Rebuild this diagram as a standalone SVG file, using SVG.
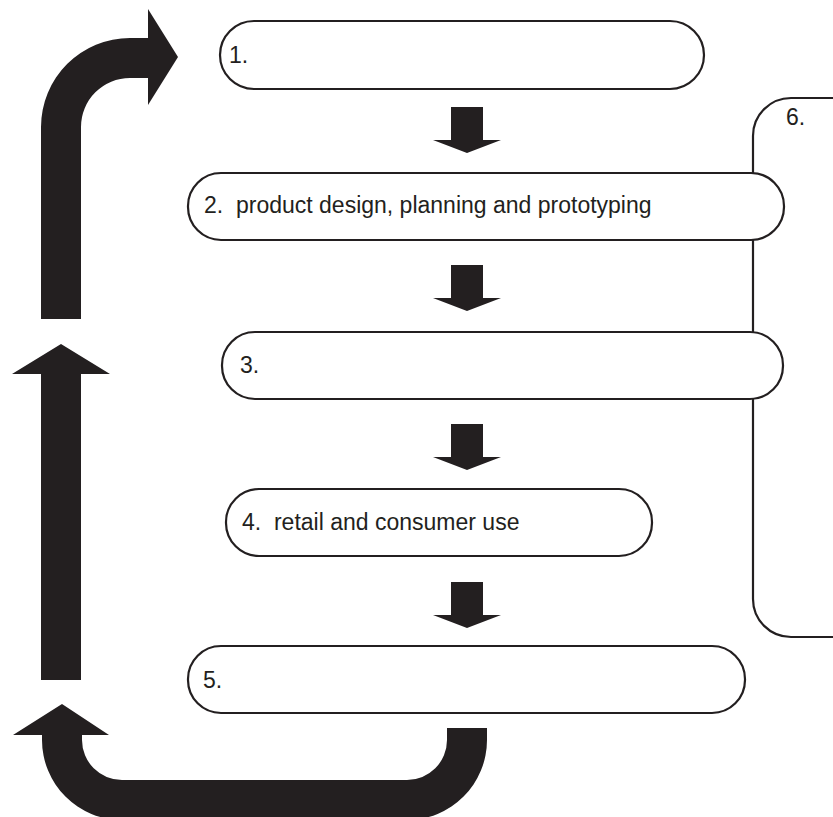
<svg xmlns="http://www.w3.org/2000/svg" width="833" height="817" viewBox="0 0 833 817">
<style>
.box{fill:#fff;stroke:#231f20;stroke-width:2.2}
.lbl{font-family:"Liberation Sans",Arial,sans-serif;font-size:23px;fill:#231f20}
.arr{fill:#231f20}
</style>
<rect width="833" height="817" fill="#fff"/>
<g id="node6"><rect class="box" x="753" y="98" width="130" height="539" rx="38" ry="38"/><text class="lbl" x="786" y="125">6.</text></g>
<g id="node1"><rect class="box" x="220" y="21" width="484" height="68" rx="34" ry="34"/><text class="lbl" x="229" y="63">1.</text></g>
<g id="node2"><rect class="box" x="188" y="173" width="596" height="67" rx="33" ry="33"/><text class="lbl" x="204" y="213" xml:space="preserve">2.  product design, planning and prototyping</text></g>
<g id="node3"><rect class="box" x="222" y="332" width="561" height="67" rx="33" ry="33"/><text class="lbl" x="240" y="373">3.</text></g>
<g id="node4"><rect class="box" x="226" y="489" width="426" height="67" rx="33" ry="33"/><text class="lbl" x="242" y="530" xml:space="preserve">4.  retail and consumer use</text></g>
<g id="node5"><rect class="box" x="188" y="646" width="557" height="67" rx="33" ry="33"/><text class="lbl" x="203" y="688">5.</text></g>
<g id="connectors">
<path class="arr" d="M451,107 H483 V140 H501 L467,153 L433,140 H451 Z"/>
<path class="arr" d="M451,265 H483 V298 H501 L467,311 L433,298 H451 Z"/>
<path class="arr" d="M451,424 H483 V457 H501 L467,470 L433,457 H451 Z"/>
<path class="arr" d="M451,582 H483 V615 H501 L467,628 L433,615 H451 Z"/>
<path class="arr" d="M41,319 V127 A89,89 0 0 1 130,38 H148 V9 L178,57 L148,105 V78 H130 A49,49 0 0 0 81,127 V319 Z"/>
<path class="arr" d="M41,680 V374 H12 L61,344 L110,374 H81 V680 Z"/>
<path class="arr" d="M447,728 H487 V740 A80,80 0 0 1 407,820 H122 A80,80 0 0 1 42,740 V735 H13 L62,704 L109,735 H82 V740 A40,40 0 0 0 122,780 H407 A40,40 0 0 0 447,740 Z"/>
</g>
</svg>
